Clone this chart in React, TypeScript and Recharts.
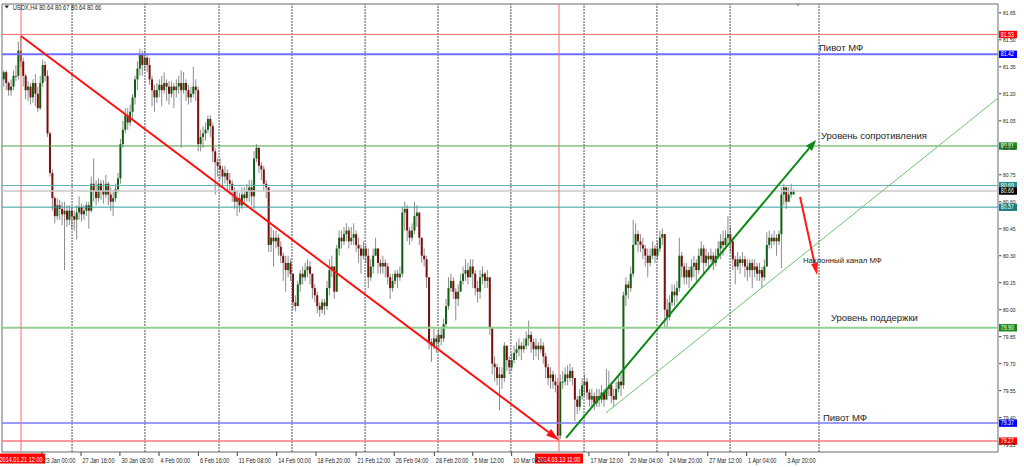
import React from 'react';
import { ComposedChart, Bar, XAxis, YAxis, ReferenceLine, ReferenceArea, ReferenceDot } from 'recharts';

const opens = [
81.28,81.32,81.26,81.22,81.24,81.30,81.30,81.44,81.38,81.30,
81.22,81.24,81.18,81.26,81.20,81.12,81.26,81.36,81.30,80.98,
80.76,80.62,80.52,80.58,80.56,80.53,80.55,80.50,80.55,80.52,
80.50,80.54,80.57,80.53,80.55,80.58,80.55,80.70,80.66,80.62,
80.70,80.66,80.64,80.70,80.64,80.60,80.62,80.67,80.73,80.92,
81.00,81.08,81.04,81.10,81.18,81.28,81.34,81.42,81.36,81.40,
81.36,81.28,81.22,81.18,81.22,81.25,81.22,81.26,81.24,81.20,
81.24,81.22,81.24,81.26,81.22,81.26,81.22,81.18,81.20,81.24,
81.22,80.92,80.96,80.98,81.00,81.06,81.02,80.88,80.82,80.80,
80.78,80.74,80.76,80.72,80.70,80.66,80.60,80.62,80.58,80.64,
80.62,80.66,80.68,80.63,80.84,80.90,80.80,80.78,80.70,80.68,
80.36,80.40,80.38,80.40,80.35,80.30,80.26,80.22,80.26,80.20,
80.04,80.02,80.14,80.20,80.18,80.22,80.24,80.20,80.12,80.08,
80.02,80.00,80.04,80.02,80.12,80.22,80.24,80.10,80.34,80.40,
80.38,80.42,80.44,80.38,80.40,80.42,80.36,80.34,80.30,80.34,
80.30,80.18,80.24,80.30,80.34,80.26,80.24,80.26,80.24,80.18,
80.12,80.16,80.20,80.18,80.20,80.54,80.56,80.44,80.40,80.44,
80.52,80.54,80.40,80.30,80.28,80.18,79.82,79.80,79.84,79.82,
79.86,79.84,79.92,80.02,80.12,80.16,80.10,80.06,80.10,80.16,
80.20,80.22,80.18,80.24,80.20,80.12,80.10,80.18,80.20,80.16,
80.18,79.90,79.70,79.68,79.62,79.64,79.62,79.80,79.72,79.68,
79.72,79.76,79.78,79.80,79.78,79.80,79.84,79.86,79.82,79.78,
79.80,79.78,79.80,79.74,79.68,79.62,79.64,79.60,79.58,79.30,
79.60,79.60,79.64,79.62,79.66,79.62,79.50,79.46,79.52,79.58,
79.60,79.54,79.50,79.52,79.48,79.52,79.50,79.54,79.50,79.56,
79.58,79.52,79.50,79.56,79.60,79.58,80.08,80.14,80.12,80.20,
80.36,80.42,80.38,80.36,80.34,80.30,80.26,80.30,80.34,80.30,
80.34,80.40,80.42,80.00,79.96,80.04,80.10,80.08,80.12,80.30,
80.24,80.18,80.22,80.18,80.24,80.26,80.22,80.30,80.34,80.26,
80.30,80.28,80.30,80.26,80.30,80.34,80.38,80.36,80.40,80.42,
80.38,80.28,80.24,80.28,80.26,80.28,80.24,80.22,80.26,80.22,
80.24,80.20,80.22,80.18,80.24,80.36,80.40,80.38,80.40,80.38,
80.42,80.64,80.68,80.60,80.64,80.64,
];

const highs = [
81.33,81.33,81.27,81.28,81.33,81.36,81.49,81.52,81.40,81.31,
81.27,81.26,81.28,81.31,81.24,81.30,81.39,81.38,81.33,80.99,
80.78,80.63,80.62,80.61,80.60,80.60,80.58,80.58,80.57,80.55,
80.58,80.63,80.59,80.58,80.60,80.60,80.74,80.84,80.72,80.73,
80.72,80.72,80.75,80.71,80.68,80.66,80.70,80.76,80.95,81.05,
81.12,81.12,81.14,81.20,81.30,81.38,81.45,81.44,81.44,81.42,
81.40,81.30,81.25,81.26,81.28,81.30,81.32,81.28,81.27,81.27,
81.26,81.28,81.30,81.33,81.32,81.28,81.25,81.24,81.35,81.28,
81.24,81.00,81.02,81.04,81.08,81.08,81.04,80.90,80.84,80.84,
80.80,80.80,80.78,80.76,80.72,80.68,80.66,80.65,80.68,80.68,
80.70,80.72,80.72,80.88,80.92,80.90,80.82,80.80,80.72,80.68,
80.46,80.44,80.44,80.42,80.38,80.32,80.30,80.30,80.28,80.20,
80.08,80.16,80.22,80.24,80.26,80.28,80.27,80.20,80.14,80.10,
80.04,80.06,80.06,80.16,80.28,80.30,80.24,80.36,80.44,80.44,
80.46,80.48,80.46,80.46,80.48,80.44,80.40,80.36,80.38,80.36,
80.34,80.28,80.34,80.40,80.34,80.28,80.30,80.28,80.26,80.20,
80.20,80.22,80.22,80.24,80.57,80.60,80.58,80.46,80.48,80.60,
80.58,80.54,80.40,80.34,80.30,80.18,79.84,79.90,79.86,79.90,
79.90,79.95,80.06,80.18,80.20,80.18,80.12,80.14,80.20,80.24,
80.28,80.26,80.28,80.28,80.22,80.16,80.22,80.24,80.21,80.22,
80.18,79.90,79.74,79.70,79.68,79.68,79.82,79.80,79.74,79.76,
79.80,79.82,79.84,79.82,79.84,79.88,79.94,79.88,79.84,79.84,
79.82,79.84,79.82,79.76,79.70,79.68,79.66,79.64,79.62,79.64,
79.66,79.68,79.69,79.70,79.68,79.62,79.52,79.56,79.62,79.64,
79.62,79.56,79.56,79.54,79.56,79.56,79.58,79.56,79.67,79.66,
79.60,79.56,79.60,79.64,79.64,80.10,80.18,80.16,80.24,80.50,
80.48,80.44,80.42,80.40,80.36,80.34,80.34,80.38,80.36,80.38,
80.44,80.45,80.42,80.06,80.08,80.14,80.14,80.16,80.40,80.32,
80.26,80.26,80.24,80.28,80.30,80.28,80.34,80.38,80.36,80.34,
80.32,80.34,80.32,80.34,80.38,80.42,80.44,80.44,80.52,80.46,
80.40,80.30,80.32,80.30,80.32,80.30,80.28,80.28,80.28,80.28,
80.26,80.26,80.24,80.28,80.43,80.44,80.42,80.44,80.42,80.44,
80.68,80.70,80.68,80.68,80.70,80.67,
];

const lows = [
81.24,81.22,81.19,81.19,81.22,81.27,81.28,81.35,81.24,81.17,
81.16,81.14,81.15,81.13,81.10,81.11,81.24,81.27,80.96,80.74,
80.55,80.48,80.50,80.50,80.47,80.22,80.46,80.47,80.45,80.44,
80.39,80.50,80.49,80.50,80.52,80.45,80.54,80.60,80.58,80.60,
80.61,80.59,80.62,80.58,80.55,80.52,80.60,80.65,80.70,80.90,
80.98,81.00,81.02,81.06,81.14,81.22,81.30,81.30,81.33,81.32,
81.25,81.13,81.10,81.15,81.18,81.13,81.20,81.16,81.14,81.18,
81.12,81.18,81.20,80.90,81.20,81.16,81.14,81.15,81.18,81.16,
80.88,80.88,80.90,80.94,80.98,80.96,80.82,80.64,80.74,80.72,
80.68,80.70,80.66,80.64,80.60,80.56,80.52,80.54,80.56,80.58,
80.60,80.60,80.58,80.56,80.82,80.76,80.72,80.66,80.62,80.32,
80.32,80.24,80.34,80.30,80.26,80.16,80.10,80.18,80.16,80.00,
79.99,80.02,80.10,80.14,80.16,80.18,80.14,80.06,80.04,79.98,
79.96,79.98,79.97,80.00,80.08,80.18,80.06,80.10,80.30,80.34,
80.36,80.38,80.34,80.36,80.36,80.32,80.26,80.20,80.28,80.26,
80.12,80.16,80.20,80.30,80.20,80.20,80.20,80.18,80.14,80.06,
80.10,80.14,80.12,80.16,80.18,80.44,80.38,80.36,80.38,80.42,
80.46,80.36,80.26,80.24,80.12,79.78,79.71,79.78,79.76,79.78,
79.80,79.82,79.90,80.00,80.10,80.06,79.94,80.02,80.10,80.14,
80.16,80.14,80.18,80.12,80.08,80.04,80.06,80.14,80.12,80.12,
79.86,79.64,79.60,79.58,79.44,79.56,79.60,79.66,79.64,79.66,
79.70,79.72,79.74,79.72,79.76,79.78,79.80,79.76,79.72,79.74,
79.72,79.76,79.70,79.62,79.58,79.56,79.56,79.54,79.27,79.28,
79.56,79.58,79.58,79.60,79.58,79.38,79.42,79.44,79.50,79.52,
79.50,79.46,79.46,79.44,79.46,79.46,79.48,79.46,79.50,79.52,
79.48,79.46,79.50,79.54,79.52,79.56,80.02,80.06,80.10,80.18,
80.36,80.32,80.32,80.28,80.24,80.18,80.24,80.28,80.26,80.28,
80.32,80.36,79.90,79.90,79.94,80.02,80.02,80.04,80.10,80.18,
80.14,80.14,80.12,80.16,80.18,80.16,80.20,80.26,80.20,80.24,
80.22,80.26,80.22,80.24,80.28,80.28,80.30,80.34,80.36,80.32,
80.22,80.14,80.22,80.20,80.24,80.18,80.16,80.18,80.12,80.18,
80.16,80.16,80.12,80.16,80.24,80.34,80.34,80.36,80.30,80.36,
80.23,80.58,80.56,80.60,80.62,80.64,
];

const closes = [
81.32,81.26,81.22,81.24,81.30,81.30,81.44,81.38,81.30,81.22,
81.24,81.18,81.26,81.20,81.12,81.26,81.36,81.30,80.98,80.76,
80.62,80.52,80.58,80.56,80.53,80.55,80.50,80.55,80.52,80.50,
80.54,80.57,80.53,80.55,80.58,80.55,80.70,80.66,80.62,80.70,
80.66,80.64,80.70,80.64,80.60,80.62,80.67,80.73,80.92,81.00,
81.08,81.04,81.10,81.18,81.28,81.34,81.42,81.36,81.40,81.36,
81.28,81.22,81.18,81.22,81.25,81.22,81.26,81.24,81.20,81.24,
81.22,81.24,81.26,81.22,81.26,81.22,81.18,81.20,81.24,81.22,
80.92,80.96,80.98,81.00,81.06,81.02,80.88,80.82,80.80,80.78,
80.74,80.76,80.72,80.70,80.66,80.60,80.62,80.58,80.64,80.62,
80.66,80.68,80.63,80.84,80.90,80.80,80.78,80.70,80.68,80.36,
80.40,80.38,80.40,80.35,80.30,80.26,80.22,80.26,80.20,80.04,
80.02,80.14,80.20,80.18,80.22,80.24,80.20,80.12,80.08,80.02,
80.00,80.04,80.02,80.12,80.22,80.24,80.10,80.34,80.40,80.38,
80.42,80.44,80.38,80.40,80.42,80.36,80.34,80.30,80.34,80.30,
80.18,80.24,80.30,80.34,80.26,80.24,80.26,80.24,80.18,80.12,
80.16,80.20,80.18,80.20,80.54,80.56,80.44,80.40,80.44,80.52,
80.54,80.40,80.30,80.28,80.18,79.82,79.80,79.84,79.82,79.86,
79.84,79.92,80.02,80.12,80.16,80.10,80.06,80.10,80.16,80.20,
80.22,80.18,80.24,80.20,80.12,80.10,80.18,80.20,80.16,80.18,
79.90,79.70,79.68,79.62,79.64,79.62,79.80,79.72,79.68,79.72,
79.76,79.78,79.80,79.78,79.80,79.84,79.86,79.82,79.78,79.80,
79.78,79.80,79.74,79.68,79.62,79.64,79.60,79.58,79.30,79.60,
79.60,79.64,79.62,79.66,79.62,79.50,79.46,79.52,79.58,79.60,
79.54,79.50,79.52,79.48,79.52,79.50,79.54,79.50,79.56,79.58,
79.52,79.50,79.56,79.60,79.58,80.08,80.14,80.12,80.20,80.36,
80.42,80.38,80.36,80.34,80.30,80.26,80.30,80.34,80.30,80.34,
80.40,80.42,80.00,79.96,80.04,80.10,80.08,80.12,80.30,80.24,
80.18,80.22,80.18,80.24,80.26,80.22,80.30,80.34,80.26,80.30,
80.28,80.30,80.26,80.30,80.34,80.38,80.36,80.40,80.42,80.38,
80.28,80.24,80.28,80.26,80.28,80.24,80.22,80.26,80.22,80.24,
80.20,80.22,80.18,80.24,80.36,80.40,80.38,80.40,80.38,80.42,
80.64,80.68,80.60,80.64,80.66,80.66,
];

// axis ticks
const priceTicks = [79.25, 79.4, 79.55, 79.7, 79.85, 80.0, 80.15, 80.3, 80.45, 80.6, 80.75, 80.9, 81.05, 81.2, 81.35, 81.5, 81.65];
const timeTickPos = [15.6, 31.7, 47.7, 63.8, 80.0, 96.0, 112.2, 128.4, 144.9, 160.6, 177.1, 192.9, 208.9, 240.7, 257.1, 273.3, 289.6, 305.6, 321.7];
const timeTickLabels = ['23 Jan 00:00', '27 Jan 16:00', '30 Jan 08:00', '4 Feb 00:00', '6 Feb 16:00', '11 Feb 08:00', '14 Feb 00:00', '18 Feb 20:00', '21 Feb 12:00', '26 Feb 04:00', '28 Feb 20:00', '5 Mar 12:00', '10 Mar 04:00', '17 Mar 12:00', '20 Mar 04:00', '24 Mar 20:00', '27 Mar 12:00', '1 Apr 04:00', '3 Apr 20:00'];

// horizontal levels
const levelValues = [81.53, 81.42, 80.91, 80.69, 80.66, 80.57, 79.9, 79.37, 79.27];
// vertical markers (bar index) and their labels
const markerPos = [7.0, 228.4];
const markerLabels = ['2014.01.21 12:00', '2014.03.13 11:00'];
// weekly grid (bar index)
const gridPos = [28.0, 58.0, 88.5, 118.5, 148.6, 178.6, 208.6, 238.7, 268.7, 298.8, 335.4];

// trend lines [x1, y1, x2, y2] in (bar index, price)
const downTrend = [7.0, 81.521, 228.4, 79.275];
const upTrend = [231.3, 79.287, 334.2, 80.943];
const channelLine = [247.7, 79.426, 409.05, 81.176];
const downArrow = [327.6, 80.626, 334.6, 80.193];

// annotations: [bar index, price, text]
const noteX = [335.4, 336.2, 328.8, 340.3, 337.0];
const noteY = [81.439, 80.949, 80.261, 79.939, 79.379];
const noteText = ['Пивот МФ', 'Уровень сопротивления', 'Наклонный канал МФ', 'Уровень поддержки', 'Пивот МФ'];

const data = closes.map((c, i) => ({ i, o: opens[i], h: highs[i], l: lows[i], c }));

const X_DOMAIN: [number, number] = [-0.823, 409.05];
const Y_DOMAIN: [number, number] = [79.209, 81.699];

const levelLine = ['#ff6a6a', '#6f6fff', '#46a046', '#62b3b3', '#c8c8c8', '#2f9c9c', '#92d092', '#7a7aff', '#ff7a7a'];
const levelWidth = [1, 2, 1, 1, 1.5, 1, 2, 1.5, 1.5];
const levelTag = ['#ff0000', '#0000ff', '#208a20', '#2a8f8f', '#000000', '#157f7f', '#1a8a1a', '#0000ff', '#ff0000'];
const noteSize = [9.5, 9.5, 7.8, 9.5, 9.5];

const FONT = '"Liberation Sans", Arial, sans-serif';

const Candle = (props: any) => {
  const { x, y, width, height, payload } = props;
  if (!payload || !Number.isFinite(y) || !Number.isFinite(height)) return <g />;
  const { o, h, l, c } = payload;
  const range = h - l;
  const k = range > 0 ? height / range : 0;
  const yO = y + (h - o) * k;
  const yC = y + (h - c) * k;
  const top = Math.min(yO, yC);
  const bh = Math.max(1, Math.abs(yO - yC));
  const cx = x + width / 2;
  const up = c >= o;
  return (
    <g>
      <line x1={cx} x2={cx} y1={y} y2={y + height} stroke="#8c8c8c" strokeWidth={1} />
      <rect x={x} y={top} width={width} height={bh} fill={up ? '#0f5f0f' : '#7d0c0c'} />
    </g>
  );
};

const makeArrow = (color: string, w: number, head: number, headW: number, withHead: boolean) => (p: any) => {
  const { x1, y1, x2, y2 } = p;
  if (![x1, y1, x2, y2].every((v: any) => Number.isFinite(v))) return <g />;
  const a = Math.atan2(y2 - y1, x2 - x1);
  const bx = x2 - head * Math.cos(a);
  const by = y2 - head * Math.sin(a);
  const nx = (-Math.sin(a) * headW) / 2;
  const ny = (Math.cos(a) * headW) / 2;
  return (
    <g>
      <line x1={x1} y1={y1} x2={withHead ? bx : x2} y2={withHead ? by : y2} stroke={color} strokeWidth={w} />
      {withHead && <polygon points={`${x2},${y2} ${bx + nx},${by + ny} ${bx - nx},${by - ny}`} fill={color} />}
    </g>
  );
};

const PriceTick = (props: any) => {
  const { y, payload } = props;
  return (
    <g>
      <line x1={999} x2={1001.5} y1={y} y2={y} stroke="#444" strokeWidth={1} />
      <text transform={`translate(1003,${y + 2.2}) scale(0.8,1)`} fontSize={6.2} fontFamily={FONT} fill="#222">
        {Number(payload.value).toFixed(2)}
      </text>
    </g>
  );
};

const TimeTick = (props: any) => {
  const { x, payload } = props;
  const idx = timeTickPos.indexOf(payload.value);
  return (
    <g>
      <line x1={x} x2={x} y1={452} y2={456} stroke="#444" strokeWidth={1} />
      <text transform={`translate(${x + 1.5},462.7) scale(0.77,1)`} fontSize={7.2} fontFamily={FONT} fill="#222">
        {idx >= 0 ? timeTickLabels[idx] : ''}
      </text>
    </g>
  );
};

const makeTag = (text: string, color: string) => (p: any) => {
  const vb = p.viewBox || {};
  const x = (vb.x ?? 0) + (vb.width ?? 0) + 1;
  const y = vb.y ?? 0;
  return (
    <g>
      <rect x={x} y={y - 3.6} width={18} height={7.4} fill={color} />
      <text transform={`translate(${x + 1.8},${y + 2.3}) scale(0.82,1)`} fontSize={6.4} fontFamily={FONT} fill="#fff">
        {text}
      </text>
    </g>
  );
};

const makeTimeTag = (text: string) => (p: any) => {
  const vb = p.viewBox || {};
  const x = vb.x ?? 0;
  return (
    <g>
      <rect x={x - 24} y={453.5} width={48} height={10} fill="#ff0000" />
      <text transform={`translate(${x},462.3) scale(0.77,1)`} textAnchor="middle" fontSize={7.2} fontFamily={FONT} fill="#fff">
        {text}
      </text>
    </g>
  );
};

const makeNote = (text: string, size: number) => (p: any) => {
  const { cx, cy } = p;
  if (!Number.isFinite(cx) || !Number.isFinite(cy)) return <g />;
  return (
    <text x={cx} y={cy} fontSize={size} fontFamily={FONT} fill="#1e1e1e">
      {text}
    </text>
  );
};

export default function App() {
  return (
    <div style={{ position: 'absolute', left: 0, top: 0, width: 1024, height: 467, background: '#fff', overflow: 'hidden' }}>
      <ComposedChart width={1024} height={467} data={data} margin={{ top: 4, right: 0, bottom: 0, left: 2 }}>
        <XAxis
          dataKey="i"
          type="number"
          domain={X_DOMAIN}
          allowDataOverflow
          ticks={timeTickPos}
          interval={0}
          tick={<TimeTick />}
          tickLine={false}
          axisLine={false}
          height={15}
        />
        <YAxis
          orientation="right"
          type="number"
          domain={Y_DOMAIN}
          allowDataOverflow
          ticks={priceTicks}
          interval={0}
          tick={<PriceTick />}
          tickLine={false}
          axisLine={false}
          width={26}
        />
        <ReferenceArea x1={X_DOMAIN[0]} x2={X_DOMAIN[1]} y1={Y_DOMAIN[0]} y2={Y_DOMAIN[1]} fill="none" fillOpacity={0} stroke="#6a6a6a" strokeWidth={1} ifOverflow="visible" />
        {gridPos.map((g, k) => (
          <ReferenceLine key={'g' + k} x={g} stroke="#505050" strokeDasharray="2 1" strokeWidth={1} ifOverflow="visible" />
        ))}
        {levelValues.map((v, k) => (
          <ReferenceLine key={'l' + k} y={v} stroke={levelLine[k]} strokeWidth={levelWidth[k]} ifOverflow="visible" />
        ))}
        {markerPos.map((m, k) => (
          <ReferenceLine key={'m' + k} x={m} stroke="#ff6a6a" strokeWidth={1} ifOverflow="visible" />
        ))}
        <Bar dataKey={(d: any) => [d.l, d.h]} barSize={2} shape={<Candle />} isAnimationActive={false} />
        <ReferenceLine
          segment={[{ x: channelLine[0], y: channelLine[1] }, { x: channelLine[2], y: channelLine[3] }]}
          ifOverflow="visible"
          shape={makeArrow('#6cc46c', 1, 0, 0, false)}
        />
        <ReferenceLine
          segment={[{ x: downTrend[0], y: downTrend[1] }, { x: downTrend[2], y: downTrend[3] }]}
          ifOverflow="visible"
          shape={makeArrow('#ff1010', 2, 13, 8, true)}
        />
        <ReferenceLine
          segment={[{ x: upTrend[0], y: upTrend[1] }, { x: upTrend[2], y: upTrend[3] }]}
          ifOverflow="visible"
          shape={makeArrow('#0a8a14', 2, 11, 8, true)}
        />
        <ReferenceLine
          segment={[{ x: downArrow[0], y: downArrow[1] }, { x: downArrow[2], y: downArrow[3] }]}
          ifOverflow="visible"
          shape={makeArrow('#ff1a1a', 2, 12, 7, true)}
        />
        {noteText.map((t, k) => (
          <ReferenceDot key={'n' + k} x={noteX[k]} y={noteY[k]} r={0} ifOverflow="visible" shape={makeNote(t, noteSize[k])} />
        ))}
        {levelValues.map((v, k) => (
          <ReferenceLine key={'t' + k} y={v} stroke="none" strokeWidth={0} ifOverflow="visible" label={makeTag(v.toFixed(2), levelTag[k])} />
        ))}
        {markerPos.map((m, k) => (
          <ReferenceLine key={'mt' + k} x={m} stroke="none" strokeWidth={0} ifOverflow="visible" label={makeTimeTag(markerLabels[k])} />
        ))}
      </ComposedChart>
      <svg width={1024} height={467} style={{ position: 'absolute', left: 0, top: 0, pointerEvents: 'none' }}>
        <polygon points="4.5,5.6 9,5.6 6.75,8.4" fill="#222" />
        <text transform="translate(12.7,9.8) scale(0.82,1)" fontSize={7} fontFamily={FONT} fill="#222">
          USDX,H4  80.64 80.67 80.64 80.66
        </text>
        <polygon points="795.5,3.5 800.5,3.5 798,6.5" fill="#999" />
      </svg>
    </div>
  );
}
